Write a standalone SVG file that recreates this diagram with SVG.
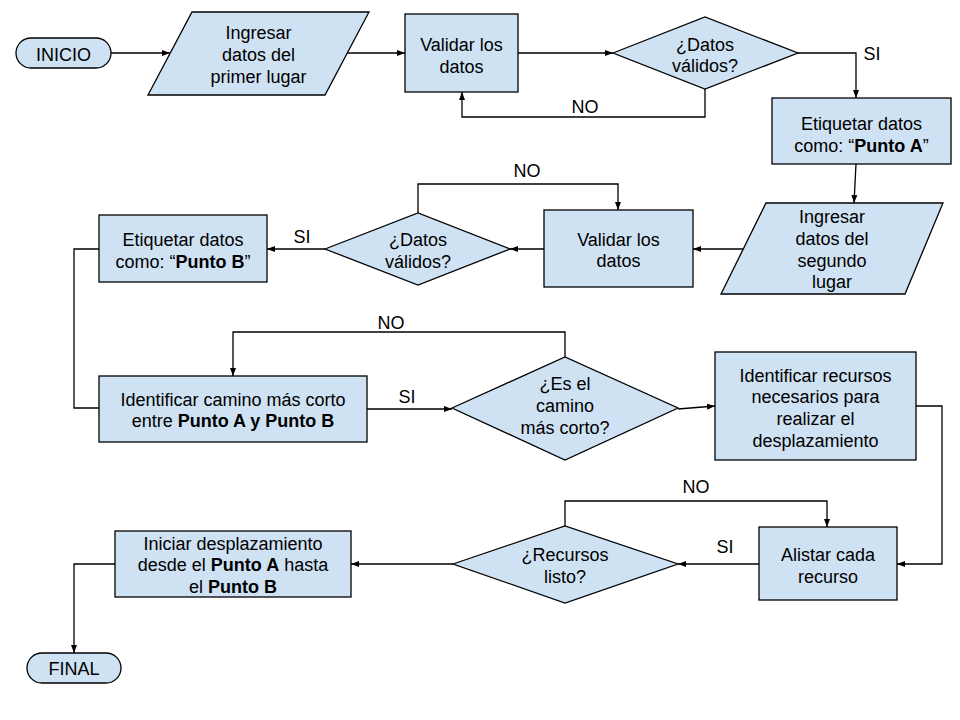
<svg xmlns="http://www.w3.org/2000/svg" width="960" height="720" viewBox="0 0 960 720">
<defs>
<marker id="arr" markerUnits="userSpaceOnUse" markerWidth="10" markerHeight="8" refX="8" refY="4" orient="auto">
<path d="M0,1 L8,4 L0,7 z" fill="#000"/>
</marker>
<style>
.n{fill:#cfe2f3;stroke:#000;stroke-width:1.3}
.t{font-family:"Liberation Sans",Arial,sans-serif;font-size:18px;fill:#000;text-anchor:middle}
.b{font-weight:bold}
.c{fill:none;stroke:#000;stroke-width:1.3}
.a{marker-end:url(#arr)}
</style>
</defs>
<rect width="960" height="720" fill="#fff"/>
<g id="connectors">
<path class="c a" d="M111,53 H170"/>
<path class="c a" d="M347,53 H405"/>
<path class="c a" d="M518,53 H613"/>
<path class="c a" d="M705,89 V117 H462 V92"/>
<path class="c a" d="M798,53 H856 V98"/>
<path class="c a" d="M856,164 L854,203"/>
<path class="c a" d="M743,249 H693"/>
<path class="c a" d="M544,249 H510"/>
<path class="c a" d="M418,213 V184 H618 V210"/>
<path class="c a" d="M325,249 H267"/>
<path class="c" d="M99,249 H74 V408 H99"/>
<path class="c a" d="M367,409 H452"/>
<path class="c a" d="M565,357 V332 H233 V376"/>
<path class="c a" d="M678,409 L715,406"/>
<path class="c a" d="M916,406 H942 V564 H897"/>
<path class="c a" d="M565,526 V501 H827 V527"/>
<path class="c a" d="M759,564 H678"/>
<path class="c a" d="M453,564 H351"/>
<path class="c a" d="M115,564 H74 V653"/>
<text class="t" x="585" y="113">NO</text>
<text class="t" x="872" y="60">SI</text>
<text class="t" x="527" y="177">NO</text>
<text class="t" x="302" y="243">SI</text>
<text class="t" x="391" y="329">NO</text>
<text class="t" x="407" y="403">SI</text>
<text class="t" x="696" y="493">NO</text>
<text class="t" x="725" y="553">SI</text>
</g>
<g id="inicio">
<rect class="n" x="16" y="38" width="95" height="30" rx="15"/>
<text class="t" x="63.5" y="60.5">INICIO</text>
</g>
<g id="ingresar1">
<polygon class="n" points="192,12 369,12 325,95 148,95"/>
<text class="t" x="258.5" y="39">Ingresar</text>
<text class="t" x="258.5" y="61">datos del</text>
<text class="t" x="258.5" y="83">primer lugar</text>
</g>
<g id="validar1">
<rect class="n" x="405" y="14" width="113" height="78"/>
<text class="t" x="461.5" y="50.5">Validar los</text>
<text class="t" x="461.5" y="72.5">datos</text>
</g>
<g id="decision1">
<polygon class="n" points="613,53 705,17 798,53 705,89"/>
<text class="t" x="705" y="50.5">¿Datos</text>
<text class="t" x="705" y="72">válidos?</text>
</g>
<g id="etiquetarA">
<rect class="n" x="772" y="98" width="179" height="66"/>
<text class="t" x="861.5" y="130">Etiquetar datos</text>
<text class="t" x="861.5" y="151.5">como: “<tspan class="b">Punto A</tspan>”</text>
</g>
<g id="ingresar2">
<polygon class="n" points="766,203 943,203 905,294 721,294"/>
<text class="t" x="832" y="223">Ingresar</text>
<text class="t" x="832" y="245">datos del</text>
<text class="t" x="832" y="266.5">segundo</text>
<text class="t" x="832" y="288">lugar</text>
</g>
<g id="validar2">
<rect class="n" x="544" y="210" width="149" height="77"/>
<text class="t" x="618.5" y="245.5">Validar los</text>
<text class="t" x="618.5" y="267">datos</text>
</g>
<g id="decision2">
<polygon class="n" points="325,249 418,213 510,249 418,285"/>
<text class="t" x="418" y="246">¿Datos</text>
<text class="t" x="418" y="267.5">válidos?</text>
</g>
<g id="etiquetarB">
<rect class="n" x="99" y="215" width="168" height="67"/>
<text class="t" x="183" y="246">Etiquetar datos</text>
<text class="t" x="183" y="267.5">como: “<tspan class="b">Punto B</tspan>”</text>
</g>
<g id="camino">
<rect class="n" x="99" y="376" width="268" height="66"/>
<text class="t" x="233" y="405.5">Identificar camino más corto</text>
<text class="t" x="233" y="427">entre <tspan class="b">Punto A y Punto B</tspan></text>
</g>
<g id="decision3">
<polygon class="n" points="452,408 565,357 678,408 565,460"/>
<text class="t" x="565" y="390">¿Es el</text>
<text class="t" x="565" y="412">camino</text>
<text class="t" x="565" y="434">más corto?</text>
</g>
<g id="recursos">
<rect class="n" x="715" y="352" width="201" height="108"/>
<text class="t" x="815.5" y="381.5">Identificar recursos</text>
<text class="t" x="815.5" y="403">necesarios para</text>
<text class="t" x="815.5" y="425">realizar el</text>
<text class="t" x="815.5" y="446.5">desplazamiento</text>
</g>
<g id="alistar">
<rect class="n" x="759" y="527" width="138" height="73"/>
<text class="t" x="828" y="561">Alistar cada</text>
<text class="t" x="828" y="582.5">recurso</text>
</g>
<g id="decision4">
<polygon class="n" points="453,564 565,526 678,564 565,603"/>
<text class="t" x="565" y="561">¿Recursos</text>
<text class="t" x="565" y="582.5">listo?</text>
</g>
<g id="iniciar">
<rect class="n" x="115" y="531" width="236" height="66"/>
<text class="t" x="233" y="549.5">Iniciar desplazamiento</text>
<text class="t" x="233" y="571">desde el <tspan class="b">Punto A</tspan> hasta</text>
<text class="t" x="233" y="592.5">el <tspan class="b">Punto B</tspan></text>
</g>
<g id="final">
<rect class="n" x="27" y="653" width="94" height="30" rx="15"/>
<text class="t" x="74" y="675">FINAL</text>
</g>
</svg>
